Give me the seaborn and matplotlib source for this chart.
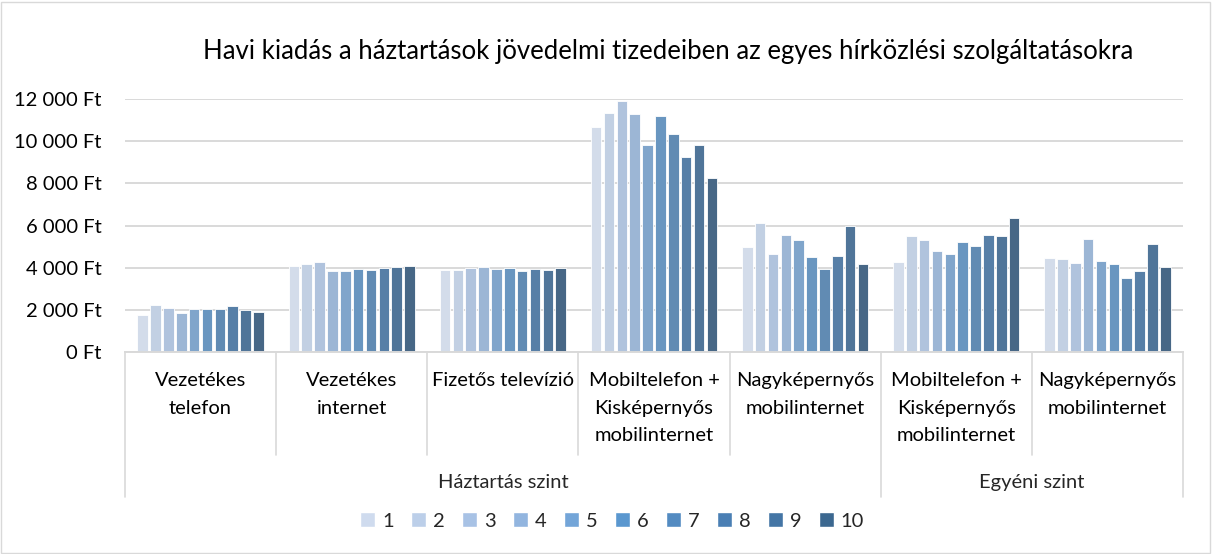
import pandas as pd
import seaborn as sns
import matplotlib.pyplot as plt
from matplotlib.ticker import FuncFormatter
from matplotlib.patches import Patch

# Chart data
categories = ["Vezetékes\ntelefon", "Vezetékes\ninternet", "Fizetős televízió",
              "Mobiltelefon +\nKisképernyős\nmobilinternet", "Nagyképernyős\nmobilinternet",
              "Mobiltelefon +\nKisképernyős\nmobilinternet", "Nagyképernyős\nmobilinternet"]
groups = ["Háztartás szint"] * 5 + ["Egyéni szint"] * 2
deciles = ["1", "2", "3", "4", "5", "6", "7", "8", "9", "10"]

vezetekes_telefon = [1750, 2250, 2100, 1830, 2050, 2040, 2050, 2200, 1975, 1900]
vezetekes_internet = [4080, 4170, 4280, 3860, 3820, 3930, 3900, 3970, 4030, 4090]
fizetos_tv = [3870, 3870, 3980, 4030, 3930, 4000, 3860, 3920, 3900, 3970]
mobil_haztartas = [10670, 11340, 11910, 11310, 9810, 11190, 10350, 9260, 9810, 8250]
nagykep_haztartas = [4960, 6100, 4630, 5560, 5310, 4500, 3920, 4530, 5970, 4190]
mobil_egyeni = [4270, 5500, 5320, 4790, 4660, 5200, 5040, 5550, 5510, 6350]
nagykep_egyeni = [4460, 4420, 4230, 5340, 4330, 4190, 3510, 3840, 5100, 4040]

series = [vezetekes_telefon, vezetekes_internet, fizetos_tv, mobil_haztartas,
          nagykep_haztartas, mobil_egyeni, nagykep_egyeni]

colors = ["#cfdbee", "#bccfe9", "#a8c2e5", "#92b5df", "#73a5d8",
          "#5a97cf", "#538bc1", "#4a7fb4", "#4475a5", "#3c6890"]

# long-form table; unique key per category since two names repeat
keys = [f"{g}|{i}" for i, g in enumerate(groups)]
rows = []
for key, vals in zip(keys, series):
    for d, v in zip(deciles, vals):
        rows.append({"kat": key, "tized": d, "ertek": v})
df = pd.DataFrame(rows)

sns.set_theme(style="white")
plt.rcParams["font.family"] = ["Lato", "DejaVu Sans"]

fig = plt.figure(figsize=(12.12, 5.54), dpi=100)
ax = fig.add_axes([125 / 1212, 1 - 352 / 554, 1058 / 1212, 253 / 554])

sns.barplot(data=df, x="kat", y="ertek", hue="tized", order=keys, hue_order=deciles,
            palette=colors, width=0.85, gap=0.18, edgecolor="white", linewidth=0.6,
            errorbar=None, ax=ax, legend=False)

ax.set_ylim(0, 12000)
ax.set_xlim(-0.5, len(keys) - 0.5)
ax.set_yticks(range(0, 12001, 2000))
ax.yaxis.set_major_formatter(FuncFormatter(lambda v, p: f"{v:,.0f} Ft".replace(",", " ")))
ax.tick_params(axis="y", labelsize=14.5, length=0, pad=17, labelcolor="#000000")
ax.grid(axis="y", color="#d9d9d9", linewidth=1.4)
ax.set_axisbelow(True)
ax.set_xticks([])
ax.set_xlabel("")
ax.set_ylabel("")
for s in ["top", "right", "left"]:
    ax.spines[s].set_visible(False)
ax.spines["bottom"].set_color("#d9d9d9")
ax.spines["bottom"].set_linewidth(1.4)

# multi-level category axis
tr = ax.get_xaxis_transform()
for i, name in enumerate(categories):
    ax.text(i, -0.08, name, transform=tr, ha="center", va="top", fontsize=14.5,
            linespacing=1.75, color="#000000")
for x in [i - 0.5 for i in range(len(keys) + 1)]:
    outer = x in (-0.5, 4.5, len(keys) - 0.5)
    ax.plot([x, x], [0, -0.573 if outer else -0.407], transform=tr, color="#d9d9d9",
            linewidth=1.2, clip_on=False)
ax.text(2, -0.514, "Háztartás szint", transform=tr, ha="center", va="center", fontsize=14.5)
ax.text(5.5, -0.514, "Egyéni szint", transform=tr, ha="center", va="center", fontsize=14.5)

fig.text(668 / 1212, 1 - 52 / 554, "Havi kiadás a háztartások jövedelmi tizedeiben az egyes hírközlési szolgáltatásokra",
         ha="center", va="center", fontsize=18.5, color="#000000")

handles = [Patch(facecolor=c, edgecolor="white") for c in colors]
fig.legend(handles, deciles, loc="center", bbox_to_anchor=(612 / 1212, 1 - 521 / 554),
           ncol=10, frameon=False, fontsize=14.5, handlelength=0.75, handleheight=0.75,
           handletextpad=0.35, columnspacing=0.85)

# thin chart border
fig.patches.append(plt.Rectangle((0.001, 0.002), 0.997, 0.995, transform=fig.transFigure,
                                 fill=False, edgecolor="#d9d9d9", linewidth=1))

fig.savefig("out.png", dpi=100)
